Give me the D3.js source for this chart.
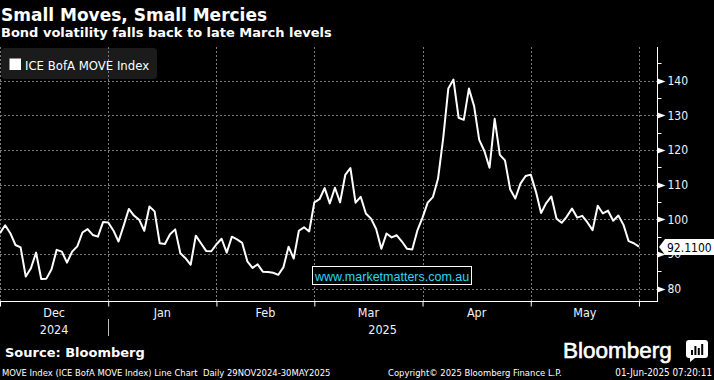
<!DOCTYPE html>
<html>
<head>
<meta charset="utf-8">
<script src="https://cdnjs.cloudflare.com/ajax/libs/d3/7.8.5/d3.min.js"></script>
<style>
  body { margin: 0; background: #000; overflow: hidden; }
  svg { display: block; }
  .cond { font-family: "DejaVu Sans Condensed", "Liberation Sans Narrow", "DejaVu Sans", sans-serif; font-stretch: condensed; }
  .bold { font-family: "DejaVu Sans", Verdana, sans-serif; font-weight: bold; }
</style>
</head>
<body>
<script>
// ICE BofA MOVE Index, daily closes 29 Nov 2024 - 30 May 2025 (trading days)
var moveIndex = [
  96.0, 98.3, 96.0, 92.6, 91.9, 83.5, 85.9, 90.4, 82.8, 82.9,
  85.6, 91.2, 90.7, 87.5, 90.7, 92.2, 96.2, 97.2, 95.5, 95.0,
  99.2, 99.1, 96.8, 93.6, 98.2, 103.0, 101.1, 99.9, 96.7, 103.7,
  102.3, 93.1, 92.9, 95.7, 97.1, 90.2, 88.8, 86.9, 95.3, 93.1,
  90.9, 90.8, 92.8, 94.4, 90.4, 95.0, 94.2, 93.2, 87.9, 86.0,
  87.0, 84.9, 84.8, 84.6, 84.0, 86.2, 92.1, 88.7, 96.7, 97.7,
  96.5, 104.9, 105.8, 109.0, 104.6, 109.1, 104.9, 112.8, 114.8, 104.8,
  106.5, 101.7, 100.2, 97.2, 91.5, 95.9, 94.8, 95.4, 93.6, 91.5,
  91.3, 96.8, 100.5, 104.8, 106.4, 111.7, 123.3, 137.7, 140.3, 129.3,
  128.7, 137.7, 132.7, 122.9, 119.7, 114.9, 129.0, 118.6, 117.0, 108.7,
  106.0, 110.3, 112.5, 112.9, 108.0, 101.8, 104.7, 106.6, 100.2, 99.0,
  100.8, 103.1, 100.5, 101.0, 99.1, 96.9, 103.9, 101.7, 102.5, 99.6,
  101.1, 98.4, 93.7, 93.1, 92.11
];
var lastValueLabel = "92.1100";

// index of the last trading day before each month starts (Dec .. Jun)
var monthEnds = [0, 21, 42, 61, 82, 103, 124];
var monthNames = ["Dec", "Jan", "Feb", "Mar", "Apr", "May"];
var yearNames = ["2024", "2025"];
var yearStarts = [0, 21];

var yMajor = [80, 90, 100, 110, 120, 130, 140];
var yMinor = [85, 95, 105, 115, 125, 135, 145];

var title = "Small Moves, Small Mercies";
var subtitle = "Bond volatility falls back to late March levels";
var seriesName = "ICE BofA MOVE Index";

var W = 714, H = 380;
var plot = {left: 0, right: 657, top: 47, bottom: 301};
var xMax = 127.5;

var x = d3.scaleLinear().domain([0, xMax]).range([plot.left, plot.right]);
var y = d3.scaleLinear().domain([76.45, 149.7]).range([plot.bottom, plot.top]);

var svg = d3.select('body').append('svg')
  .attr('width', W)
  .attr('height', H)
  .style('background', '#000');

// titles
svg.append('text')
  .attr('class', 'bold')
  .attr('x', 1).attr('y', 20.5)
  .style('font-size', '17px')
  .attr('fill', '#fff')
  .text(title);

svg.append('text')
  .attr('class', 'bold')
  .attr('x', 1).attr('y', 37)
  .style('font-size', '13px')
  .attr('fill', '#fff')
  .text(subtitle);

// legend box (sits under the grid)
svg.append('rect')
  .attr('x', 1).attr('y', 48)
  .attr('width', 156).attr('height', 31)
  .attr('rx', 4)
  .attr('fill', '#1b1b1b');

svg.append('rect')
  .attr('x', 9.5).attr('y', 58.5)
  .attr('width', 11.5).attr('height', 11.5)
  .attr('fill', '#fff');

svg.append('text')
  .attr('class', 'cond')
  .attr('x', 25).attr('y', 70)
  .style('font-size', '13px')
  .attr('fill', '#fff')
  .text(seriesName);

// grid
var grid = svg.append('g').attr('stroke', '#7a7a7a').attr('stroke-dasharray', '2,2');

grid.selectAll('.hgrid')
  .data(yMajor)
  .enter().append('line')
  .attr('x1', plot.left).attr('x2', plot.right)
  .attr('y1', function(d) { return Math.round(y(d)) + 0.5; })
  .attr('y2', function(d) { return Math.round(y(d)) + 0.5; });

grid.selectAll('.vgrid')
  .data(monthEnds)
  .enter().append('line')
  .attr('x1', function(d) { return Math.round(x(d)) + 0.5; })
  .attr('x2', function(d) { return Math.round(x(d)) + 0.5; })
  .attr('y1', plot.top).attr('y2', plot.bottom);

// watermark box
svg.append('rect')
  .attr('x', 312.5).attr('y', 266.5)
  .attr('width', 159).attr('height', 18)
  .attr('fill', '#000')
  .attr('stroke', '#fff');

svg.append('text')
  .attr('x', 315).attr('y', 280.5)
  .style('font-family', '"Liberation Sans", Arial, sans-serif')
  .style('font-size', '12.5px')
  .attr('fill', '#26d9f2')
  .text('www.marketmatters.com.au');

// series line
var line = d3.line()
  .x(function(d, i) { return x(i); })
  .y(function(d) { return y(d); });

svg.append('path')
  .datum(moveIndex)
  .attr('d', line)
  .attr('fill', 'none')
  .attr('stroke', '#fff')
  .attr('stroke-width', 2)
  .attr('stroke-linejoin', 'round');

// right axis
var yAxis = d3.axisRight(y)
  .tickValues(yMajor)
  .tickSize(0)
  .tickPadding(10)
  .tickFormat(d3.format('d'));

var yAxisG = svg.append('g')
  .attr('class', 'cond')
  .attr('transform', 'translate(' + (plot.right + 0.5) + ',0)')
  .call(yAxis);

yAxisG.select('.domain').remove();
yAxisG.selectAll('text')
  .attr('fill', '#eef3ff')
  .style('font-size', '12px')
  .style('font-family', null);

yAxisG.append('line')
  .attr('y1', plot.top).attr('y2', plot.bottom + 0.5)
  .attr('stroke', '#fff');

yAxisG.selectAll('.minor')
  .data(yMinor)
  .enter().append('line')
  .attr('x1', 0).attr('x2', 4)
  .attr('y1', function(d) { return Math.round(y(d)) + 0.5; })
  .attr('y2', function(d) { return Math.round(y(d)) + 0.5; })
  .attr('stroke', '#fff');

yAxisG.selectAll('.arrow')
  .data(yMajor)
  .enter().append('path')
  .attr('d', function(d) {
    var yy = Math.round(y(d)) + 0.5;
    return 'M0,' + (yy - 3) + 'L8,' + yy + 'L0,' + (yy + 3) + 'Z';
  })
  .attr('fill', '#fff');

// bottom axis
var xAxis = d3.axisBottom(x)
  .tickValues(monthEnds)
  .tickSize(5)
  .tickFormat('');

var xAxisG = svg.append('g')
  .attr('transform', 'translate(0,' + (plot.bottom + 0.5) + ')')
  .call(xAxis);

xAxisG.select('.domain').remove();
xAxisG.selectAll('.tick line').attr('stroke', '#fff');
xAxisG.append('line')
  .attr('x1', plot.left).attr('x2', plot.right + 1)
  .attr('stroke', '#fff');

svg.selectAll('.month')
  .data(monthNames)
  .enter().append('text')
  .attr('class', 'cond')
  .attr('x', function(d, i) { return x((monthEnds[i] + monthEnds[i + 1]) / 2); })
  .attr('y', 317)
  .attr('text-anchor', 'middle')
  .style('font-size', '12.5px')
  .attr('fill', '#eef3ff')
  .text(function(d) { return d; });

svg.selectAll('.year')
  .data(yearNames)
  .enter().append('text')
  .attr('class', 'cond')
  .attr('x', function(d, i) {
    var end = i + 1 < yearStarts.length ? yearStarts[i + 1] : xMax;
    return x((yearStarts[i] + end) / 2);
  })
  .attr('y', 333.5)
  .attr('text-anchor', 'middle')
  .style('font-size', '12.5px')
  .attr('fill', '#eef3ff')
  .text(function(d) { return d; });

svg.selectAll('.yearsep')
  .data(yearStarts.slice(1))
  .enter().append('line')
  .attr('x1', function(d) { return Math.round(x(d)) + 0.5; })
  .attr('x2', function(d) { return Math.round(x(d)) + 0.5; })
  .attr('y1', 319).attr('y2', 336)
  .attr('stroke', '#bbb');

// last value tag
var lastY = Math.round(y(moveIndex[moveIndex.length - 1]));
svg.append('path')
  .attr('d', 'M' + (plot.right + 2) + ',' + lastY +
             'L' + (plot.right + 8) + ',' + (lastY - 8) +
             'L' + W + ',' + (lastY - 8) +
             'L' + W + ',' + (lastY + 8) +
             'L' + (plot.right + 8) + ',' + (lastY + 8) + 'Z')
  .attr('fill', '#fff');

svg.append('text')
  .attr('class', 'cond')
  .attr('x', plot.right + 10).attr('y', lastY + 4.5)
  .style('font-size', '12px')
  .attr('fill', '#000')
  .text(lastValueLabel);

// footer
svg.append('text')
  .attr('class', 'bold')
  .attr('x', 5).attr('y', 357)
  .style('font-size', '13px')
  .attr('fill', '#fff')
  .text('Source: Bloomberg');

svg.append('text')
  .attr('x', 563).attr('y', 358)
  .style('font-family', '"Liberation Sans", Arial, sans-serif')
  .style('font-size', '22.5px')
  .attr('fill', '#fff')
  .attr('stroke', '#fff')
  .attr('stroke-width', 0.6)
  .text('Bloomberg');

var logo = svg.append('g').attr('transform', 'translate(686,340)');
logo.append('rect')
  .attr('width', 22).attr('height', 18).attr('rx', 3)
  .attr('fill', '#fff');
logo.append('path')
  .attr('d', 'M4,18 L4,22 L9,18 Z')
  .attr('fill', '#fff');
logo.selectAll('.bar')
  .data([5, 9, 7, 11])
  .enter().append('rect')
  .attr('x', function(d, i) { return 5 + i * 3.4; })
  .attr('y', function(d) { return 15 - d; })
  .attr('width', 2)
  .attr('height', function(d) { return d; })
  .attr('fill', '#000');

var foot = svg.append('g')
  .attr('class', 'cond')
  .style('font-size', '9.4px')
  .attr('fill', '#fff');

foot.append('text')
  .attr('x', 2).attr('y', 376)
  .attr('xml:space', 'preserve')
  .text('MOVE Index (ICE BofA MOVE Index) Line Chart  Daily 29NOV2024-30MAY2025');

foot.append('text')
  .attr('x', 388).attr('y', 376)
  .text('Copyright\u00a9 2025 Bloomberg Finance L.P.');

foot.append('text')
  .attr('x', 712).attr('y', 376)
  .attr('text-anchor', 'end')
  .style('font-size', '9.8px')
  .text('01-Jun-2025 07:20:11');
</script>
</body>
</html>
